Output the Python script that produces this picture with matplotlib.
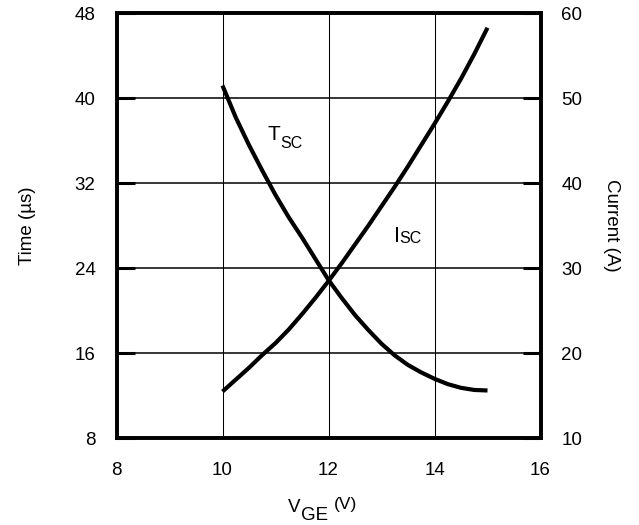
import matplotlib.pyplot as plt

plt.rcParams['font.family'] = ['Liberation Sans', 'DejaVu Sans']

# gate-emitter voltage (V)
vge = [10, 10.25, 10.5, 10.75, 11, 11.25, 11.5, 11.75, 12, 12.25, 12.5,
       12.75, 13, 13.25, 13.5, 13.75, 14, 14.25, 14.5, 14.75, 15]
# short circuit withstand time (us), left axis
tsc = [41.2, 38.2, 35.6, 33.2, 30.9, 28.8, 26.9, 24.9, 22.9, 21.2, 19.6,
       18.2, 16.9, 15.8, 14.9, 14.2, 13.6, 13.1, 12.75, 12.55, 12.5]
# short circuit current (A), right axis
isc = [15.5, 16.9, 18.3, 19.8, 21.2, 22.8, 24.6, 26.5, 28.5, 30.6, 32.8,
       35.0, 37.3, 39.6, 42.0, 44.5, 47.0, 49.6, 52.3, 55.2, 58.3]

x_ticks = [8, 10, 12, 14, 16]
t_ticks = [8, 16, 24, 32, 40, 48]
i_ticks = [10, 20, 30, 40, 50, 60]

W, H = 639, 525
fig = plt.figure(figsize=(W / 100, H / 100), dpi=100)
ax = fig.add_axes([116.5 / W, 1 - 438.3 / H, 424 / W, 425 / H])
ax2 = ax.twinx()


def px(x, y):
    # pixel position -> figure fraction
    return x / W, 1 - y / H


ax.plot(vge, tsc, color='black', lw=3.0, solid_capstyle='butt')
ax2.plot(vge, isc, color='black', lw=3.0, solid_capstyle='butt')

ax.set_xlim(8, 16)
ax.set_ylim(8, 48)
ax2.set_ylim(10, 60)
ax.set_xticks(x_ticks)
ax.set_yticks(t_ticks)
ax2.set_yticks(i_ticks)

ax.grid(True, axis='x', color='black', lw=0.75)
ax.grid(True, axis='y', color='black', lw=1.1)
ax.set_axisbelow(True)

for a in (ax, ax2):
    for s in a.spines.values():
        s.set_linewidth(2.6)
    a.tick_params(axis='y', direction='in', length=13, width=2.2,
                  labelsize=13.5, pad=15)
ax.tick_params(axis='x', length=0, labelsize=13.5, pad=17)

ax.set_ylabel('Time (µs)', fontsize=13.5, labelpad=28)
ax2.set_ylabel('Current (A)', fontsize=13.5, rotation=-90, labelpad=27)

# x axis title: V with a full-size GE subscript
fig.text(*px(288, 512), 'V', fontsize=13.5, va='baseline')
fig.text(*px(301, 520), 'GE', fontsize=13.5, va='baseline')
fig.text(*px(334, 509), '(V)', fontsize=12.5, va='baseline')

# curve labels
fig.text(*px(268, 140), 'T', fontsize=15, va='baseline')
fig.text(*px(280, 148), 'SC', fontsize=11.5, va='baseline')
fig.text(*px(394, 242), 'I', fontsize=15.5, va='baseline')
fig.text(*px(399, 243), 'SC', fontsize=11.5, va='baseline')

fig.savefig('out.png', dpi=100)
